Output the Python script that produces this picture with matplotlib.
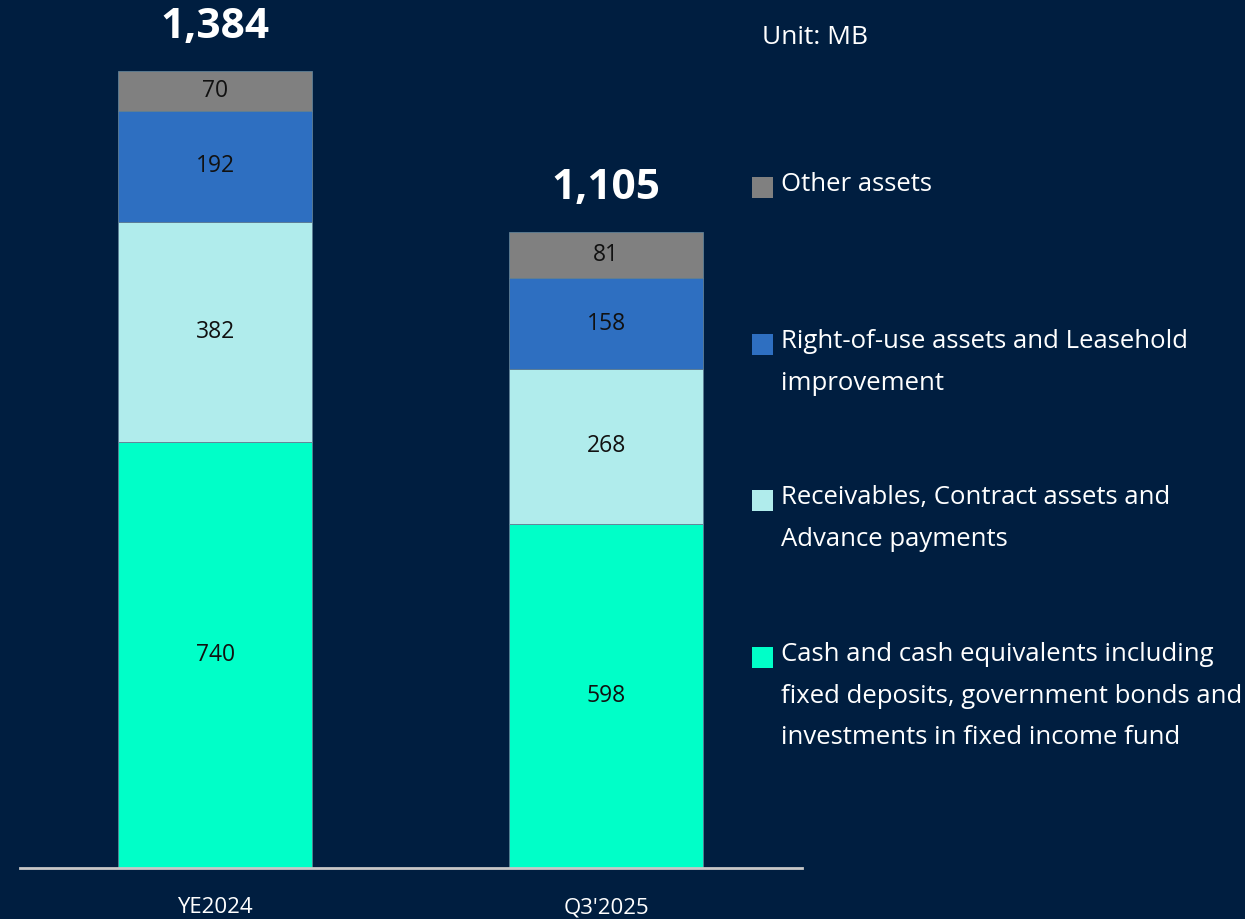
from matplotlib import pyplot as plt
from matplotlib.patches import Rectangle
import numpy as np

# data (MB)
periods = ['YE2024', "Q3'2025"]
cash = [740, 598]
receivables = [382, 268]
rou_assets = [192, 158]
other_assets = [70, 81]
totals = ['1,384', '1,105']

series_names = ['Cash and cash equivalents including\nfixed deposits, government bonds and\ninvestments in fixed income fund',
                'Receivables, Contract assets and\nAdvance payments',
                'Right-of-use assets and Leasehold\nimprovement',
                'Other assets']
colors = ['#00ffc8', '#b0ecec', '#2e6fc1', '#808080']
bg = '#001e40'

plt.rcParams['font.family'] = ['Open Sans', 'DejaVu Sans']

fig = plt.figure(figsize=(12.45, 9.19), dpi=100, facecolor=bg)
W, H = 1245, 919
ax = fig.add_axes([20 / W, (H - 868) / H, 782 / W, 868 / H])
ax.set_facecolor(bg)

x = np.arange(len(periods))
stack = [cash, receivables, rou_assets, other_assets]
bottom = np.zeros(len(periods))
for vals, col in zip(stack, colors):
    vals = np.array(vals)
    ax.bar(x, vals, width=0.496, bottom=bottom, color=col, edgecolor='#5f7f95', linewidth=0.6)
    for xi, b, v in zip(x, bottom, vals):
        ax.text(xi, b + v / 2, str(v), ha='center', va='center', fontsize=16.5, color='#111111')
    bottom = bottom + vals

for xi, top, lbl in zip(x, bottom, totals):
    ax.annotate(lbl, (xi, top), xytext=(0, 31), textcoords='offset points',
                ha='center', va='center', fontsize=30.5, fontweight='bold', color='white')

ax.set_xlim(-0.499, 1.501)
ax.set_ylim(0, 1507)
for s in ['top', 'right', 'left']:
    ax.spines[s].set_visible(False)
ax.spines['bottom'].set_color('#c8c8c8')
ax.spines['bottom'].set_linewidth(2)
ax.set_yticks([])
ax.set_xticks(x)
ax.set_xticklabels(periods, fontsize=16, color='white')
ax.tick_params(axis='x', length=0, pad=21)

fig.text(762 / W, 1 - 38 / H, 'Unit: MB', fontsize=19, color='white', va='center', ha='left')

# legend drawn by hand, top item first
text_y = [183, 340, 496, 653]
for name, col, ty in zip(series_names[::-1], colors[::-1], text_y):
    fig.patches.append(Rectangle((752 / W, 1 - (ty + 15) / H), 21 / W, 21 / H,
                                 transform=fig.transFigure, facecolor=col, edgecolor='none'))
    fig.text(781 / W, 1 - (ty - 11) / H, name, fontsize=18.5, color='white', va='top', ha='left',
             linespacing=1.87)

plt.savefig('out.png', dpi=100, facecolor=bg)
